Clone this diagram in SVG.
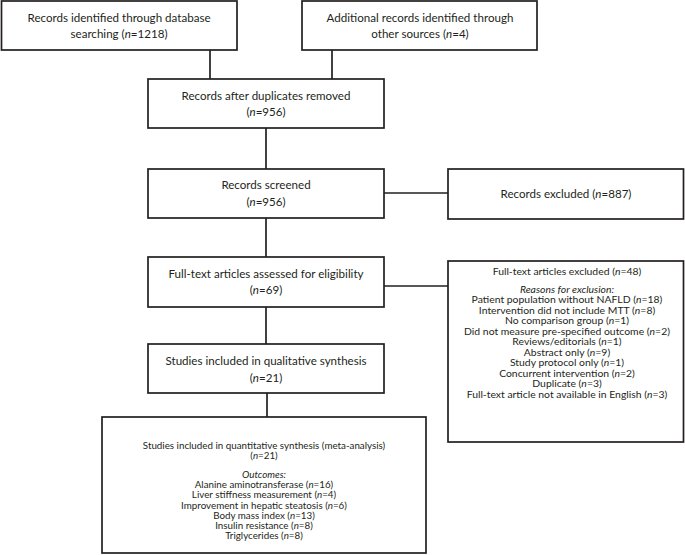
<svg xmlns="http://www.w3.org/2000/svg" width="685" height="555" viewBox="0 0 685 555">
<style>
  .box { fill: #ffffff; stroke: #231f20; stroke-width: 1.7; }
  .conn line { stroke: #231f20; stroke-width: 1.7; }
  text { font-family: "Lato", "Carlito", "Liberation Sans", sans-serif; fill: #231f20; text-anchor: middle; }
  .t { font-size: 10.8px; }
  .m { font-size: 9.4px; }
  .s { font-size: 8.9px; }
  .i { font-style: italic; }
</style>
<rect width="685" height="555" fill="#ffffff"/>
<g id="connectors" class="conn">
  <line x1="210" y1="50" x2="210" y2="79"/>
  <line x1="332" y1="50" x2="332" y2="79"/>
  <line x1="266" y1="128" x2="266" y2="169"/>
  <line x1="384" y1="193" x2="448" y2="193"/>
  <line x1="266" y1="218" x2="266" y2="257"/>
  <line x1="384" y1="286" x2="448" y2="286"/>
  <line x1="266" y1="307" x2="266" y2="344"/>
  <line x1="267" y1="393" x2="267" y2="417"/>
</g>
<g id="db-records">
  <rect class="box" x="1.5" y="1" width="235.5" height="49"/>
  <g transform="translate(119 0) scale(1.074 1)">
    <text class="t" x="0" y="22">Records identified through database</text>
    <text class="t" x="0" y="38">searching (<tspan class="i">n</tspan>=1218)</text>
  </g>
</g>
<g id="other-records">
  <rect class="box" x="302" y="1" width="235" height="49"/>
  <g transform="translate(420 0) scale(1.074 1)">
    <text class="t" x="0" y="22">Additional records identified through</text>
    <text class="t" x="0" y="38">other sources (<tspan class="i">n</tspan>=4)</text>
  </g>
</g>
<g id="dedup">
  <rect class="box" x="148" y="79" width="236" height="49"/>
  <g transform="translate(266 0) scale(1.074 1)">
    <text class="t" x="0" y="100">Records after duplicates removed</text>
    <text class="t" x="0" y="116">(<tspan class="i">n</tspan>=956)</text>
  </g>
</g>
<g id="screened">
  <rect class="box" x="148" y="169" width="236" height="49"/>
  <g transform="translate(266 0) scale(1.074 1)">
    <text class="t" x="0" y="189">Records screened</text>
    <text class="t" x="0" y="206">(<tspan class="i">n</tspan>=956)</text>
  </g>
</g>
<g id="excluded">
  <rect class="box" x="448" y="169" width="235.5" height="50"/>
  <g transform="translate(566 0) scale(1.074 1)">
    <text class="t" x="0" y="198">Records excluded (<tspan class="i">n</tspan>=887)</text>
  </g>
</g>
<g id="fulltext">
  <rect class="box" x="148" y="257" width="236" height="50"/>
  <g transform="translate(266 0) scale(1.074 1)">
    <text class="t" x="0" y="278">Full-text articles assessed for eligibility</text>
    <text class="t" x="0" y="294">(<tspan class="i">n</tspan>=69)</text>
  </g>
</g>
<g id="fulltext-excluded">
  <rect class="box" x="448" y="261" width="235.5" height="181"/>
  <g transform="translate(567 0) scale(1.106 1)">
    <text class="m" x="0" y="275">Full-text articles excluded (<tspan class="i">n</tspan>=48)</text>
    <text class="m i" x="0" y="293">Reasons for exclusion:</text>
    <text class="m" x="0" y="303.5">Patient population without NAFLD (<tspan class="i">n</tspan>=18)</text>
    <text class="m" x="0" y="314">Intervention did not include MTT (<tspan class="i">n</tspan>=8)</text>
    <text class="m" x="0" y="324.5">No comparison group (<tspan class="i">n</tspan>=1)</text>
    <text class="m" x="0" y="335">Did not measure pre-specified outcome (<tspan class="i">n</tspan>=2)</text>
    <text class="m" x="0" y="345.5">Reviews/editorials (<tspan class="i">n</tspan>=1)</text>
    <text class="m" x="0" y="356">Abstract only (<tspan class="i">n</tspan>=9)</text>
    <text class="m" x="0" y="366.5">Study protocol only (<tspan class="i">n</tspan>=1)</text>
    <text class="m" x="0" y="377">Concurrent intervention (<tspan class="i">n</tspan>=2)</text>
    <text class="m" x="0" y="387.5">Duplicate (<tspan class="i">n</tspan>=3)</text>
    <text class="m" x="0" y="398">Full-text article not available in English (<tspan class="i">n</tspan>=3)</text>
  </g>
</g>
<g id="qualitative">
  <rect class="box" x="148" y="344" width="236" height="49"/>
  <g transform="translate(266 0) scale(1.074 1)">
    <text class="t" x="0" y="365">Studies included in qualitative synthesis</text>
    <text class="t" x="0" y="382">(<tspan class="i">n</tspan>=21)</text>
  </g>
</g>
<g id="quantitative">
  <rect class="box" x="102" y="417" width="324" height="136"/>
  <g transform="translate(264 0) scale(1.1 1)">
    <text class="s" x="0" y="449">Studies included in quantitative synthesis (meta-analysis)</text>
    <text class="s" x="0" y="459.2">(<tspan class="i">n</tspan>=21)</text>
    <text class="s i" x="0" y="478">Outcomes:</text>
    <text class="s" x="0" y="488.2">Alanine aminotransferase (<tspan class="i">n</tspan>=16)</text>
    <text class="s" x="0" y="498.4">Liver stiffness measurement (<tspan class="i">n</tspan>=4)</text>
    <text class="s" x="0" y="508.6">Improvement in hepatic steatosis (<tspan class="i">n</tspan>=6)</text>
    <text class="s" x="0" y="518.8">Body mass index (<tspan class="i">n</tspan>=13)</text>
    <text class="s" x="0" y="529">Insulin resistance (<tspan class="i">n</tspan>=8)</text>
    <text class="s" x="0" y="539.2">Triglycerides (<tspan class="i">n</tspan>=8)</text>
  </g>
</g>
</svg>
